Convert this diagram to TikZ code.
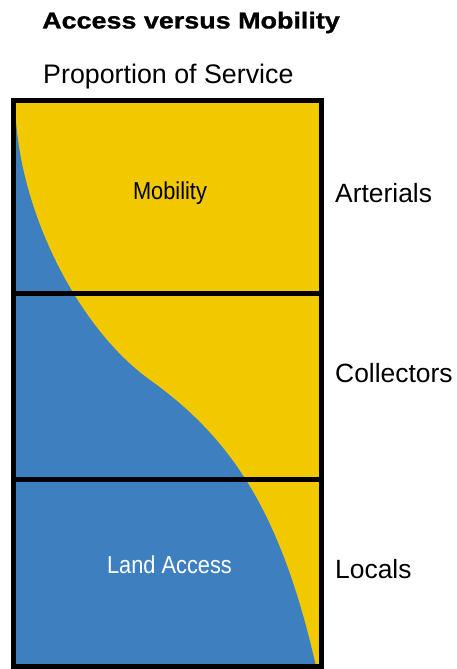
\documentclass[tikz,border=0pt]{standalone}
\usepackage{fontspec}
\setmainfont{Liberation Sans}
\newfontfamily\titlefont{Liberation Sans Bold}[FakeStretch=1.17,FakeBold=1]
\newfontfamily\narrowfont{Liberation Sans}[FakeStretch=0.89]
\definecolor{mobyellow}{RGB}{242,201,0}
\definecolor{accessblue}{RGB}{62,127,192}
\tikzset{
  sidelabel/.style={anchor=base west,inner sep=0pt,font=\fontsize{26.4}{30}\selectfont},
  arealabel/.style={anchor=base,inner sep=0pt,font=\narrowfont\fontsize{24.5}{28}\selectfont},
  band/.style={line width=5pt},
}

\begin{document}
\begin{tikzpicture}[x=1pt,y=-1pt]
    \useasboundingbox (0,0) rectangle (457,669);
    % yellow for mobility, blue for land access
    \fill[mobyellow] (13.5,100.5) rectangle (321.5,666.5);
    \fill[accessblue] (15.5,112) .. controls (20,215) and (80,330) .. (150,380)
      .. controls (234,440) and (282,516.5) .. (316,666.5) -- (13.5,666.5) -- cycle;
    % frame and class bands
    \draw[band] (13.5,100.5) rectangle (321.5,666.5);
    \draw[band] (13.5,293) to (321.5,293);
    \draw[band] (13.5,479.5) to (321.5,479.5);
    \node[anchor=base west,inner sep=0pt,font=\titlefont\fontsize{23}{27}\selectfont] (title) at (42,28.5) {Access versus Mobility};
    \node[sidelabel,font=\fontsize{26.8}{30}\selectfont] (share) at (43,83) {Proportion of Service};
    \node[sidelabel] (arterials) at (335,202) {Arterials};
    \node[sidelabel] (collectors) at (335,382) {Collectors};
    \node[sidelabel] (locals) at (335,578) {Locals};
    \node[arealabel] (mobility) at (170,199) {Mobility};
    \node[arealabel,text=white] (access) at (169.5,573) {Land Access};
  \end{tikzpicture}
\end{document}
